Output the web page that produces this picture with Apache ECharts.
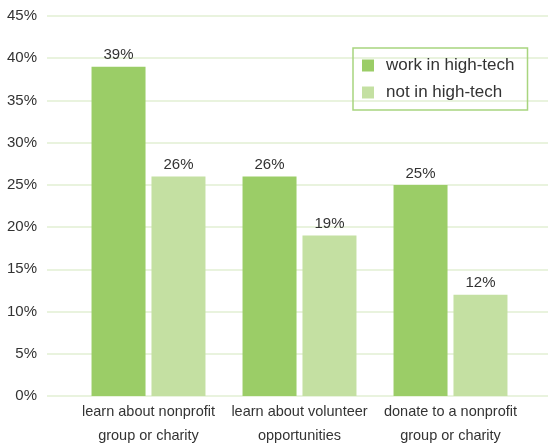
<!DOCTYPE html>
<html>
<head>
<meta charset="utf-8">
<style>
  html, body { margin: 0; padding: 0; background: #fff; }
  #chart { width: 548px; height: 444px; }
</style>
<script src="https://cdn.jsdelivr.net/npm/echarts@6/dist/echarts.min.js"></script>
</head>
<body>
<div id="chart"></div>
<script>
// Share of people who use the internet for each purpose
const categories = [
  'learn about nonprofit\ngroup or charity',
  'learn about volunteer\nopportunities',
  'donate to a nonprofit\ngroup or charity'
];
const highTech = [39, 26, 25];
const notHighTech = [26, 19, 12];
const seriesNames = ['work in high-tech', 'not in high-tech'];
const yTicks = [0, 5, 10, 15, 20, 25, 30, 35, 40, 45];

const FONT = '"Liberation Sans", Arial, sans-serif';
const DARK = '#9bcd67';
const LIGHT = '#c4e0a2';
const GRID = '#e2efd3';

const chart = echarts.init(document.getElementById('chart'), null, { renderer: 'canvas' });

const valueLabel = {
  show: true,
  position: 'top',
  distance: 4,
  formatter: p => p.value + '%',
  color: '#333',
  fontFamily: FONT,
  fontSize: 15
};

chart.setOption({
  animation: false,
  backgroundColor: '#fff',
  textStyle: { fontFamily: FONT },
  legend: {
    orient: 'vertical',
    left: 353,
    top: 48,
    padding: [9, 13, 9, 9],
    borderColor: '#a8d57f',
    borderWidth: 1.5,
    itemWidth: 12,
    itemHeight: 12,
    itemGap: 10,
    icon: 'rect',
    data: seriesNames,
    textStyle: { fontFamily: FONT, fontSize: 17, color: '#333', padding: [0, 0, 0, 7] }
  },
  grid: [
    { left: 47, right: 0, top: 16, bottom: 48, outerBoundsMode: 'none', containLabel: false },
    { left: 73, right: 22, top: 16, bottom: 48, outerBoundsMode: 'none', containLabel: false }
  ],
  xAxis: [
    { gridIndex: 0, type: 'value', min: 0, max: 1, show: false },
    {
      gridIndex: 1,
      type: 'category',
      data: categories,
      axisLine: { show: false },
      axisTick: { show: false },
      axisLabel: {
        interval: 0,
        color: '#333',
        fontFamily: FONT,
        fontSize: 14.5,
        lineHeight: 24,
        margin: 4
      }
    }
  ],
  yAxis: [
    {
      gridIndex: 0,
      type: 'value',
      min: yTicks[0],
      max: yTicks[yTicks.length - 1],
      interval: 5,
      axisLine: { show: false },
      axisTick: { show: false },
      splitLine: { lineStyle: { color: GRID, width: 1.5 } },
      axisLabel: {
        formatter: v => v + '%',
        color: '#333',
        fontFamily: FONT,
        fontSize: 15,
        margin: 10
      }
    },
    {
      gridIndex: 1,
      type: 'value',
      min: yTicks[0],
      max: yTicks[yTicks.length - 1],
      show: false
    }
  ],
  series: [
    {
      name: seriesNames[0],
      type: 'bar',
      xAxisIndex: 1,
      yAxisIndex: 1,
      data: highTech,
      barWidth: 54,
      barGap: '11%',
      itemStyle: { color: DARK },
      label: valueLabel
    },
    {
      name: seriesNames[1],
      type: 'bar',
      xAxisIndex: 1,
      yAxisIndex: 1,
      data: notHighTech,
      barWidth: 54,
      barGap: '11%',
      itemStyle: { color: LIGHT },
      label: valueLabel
    }
  ]
});
</script>
</body>
</html>
